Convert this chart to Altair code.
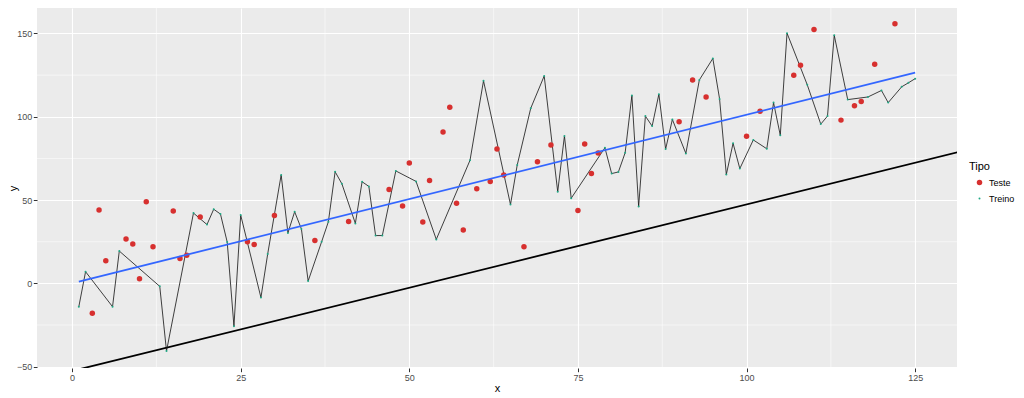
import altair as alt
import pandas as pd

# ---- data ----
teste_x = [3, 4, 5, 8, 9, 10, 11, 12, 15, 16, 17, 19, 26, 27, 30, 36, 41, 47, 49, 50,
           52, 53, 55, 56, 57, 58, 60, 62, 63, 64, 67, 69, 71, 75, 76, 77, 78, 90, 92, 94,
           100, 102, 107, 108, 110, 114, 116, 117, 119, 122]
teste_y = [-18, 44, 13.6, 26.7, 23.6, 2.8, 49, 22, 43.4, 14.9, 16.9, 39.8, 25, 23.4, 40.8,
           25.8, 37.2, 56.4, 46.5, 72.3, 36.8, 61.8, 90.9, 105.7, 48.1, 32.1, 56.8, 61.2,
           80.6, 65.1, 22, 73, 83, 43.8, 83.6, 65.9, 78.2, 97, 122.1, 111.9, 88.3, 103.3,
           124.9, 131, 152.4, 98, 106.6, 109.2, 131.5, 155.8]

treino_x = [1, 2, 6, 7, 13, 14, 18, 20, 21, 22, 23, 24, 25, 28, 29, 31, 32, 33, 34, 35,
            37, 38, 39, 40, 42, 43, 44, 45, 46, 48, 51, 54, 59, 61, 65, 66, 68, 70, 72, 73,
            74, 79, 80, 81, 82, 83, 84, 85, 86, 87, 88, 89, 91, 93, 95, 96, 97, 98, 99, 101,
            103, 104, 105, 106, 109, 111, 112, 113, 115, 118, 120, 121, 123, 124, 125]
treino_y = [-14, 7, -14, 19.4, -1.8, -40.6, 42.2, 35.3, 44.5, 41.6, 24.8, -25.7, 41, -8.5,
            17.6, 65.1, 30.3, 43, 32.7, 1.4, 25, 37, 67, 59.8, 36, 61, 58.2, 28.7, 28.7,
            67.5, 61.2, 26.4, 73.9, 121.6, 47.3, 71.1, 105.1, 124.5, 55, 88.5, 51.1, 81.4,
            65.9, 66.9, 78.4, 112.8, 46.1, 100.4, 94.4, 113.6, 80.6, 98.4, 78, 122.1, 135,
            110.7, 65.3, 84.1, 68.9, 86.1, 80.8, 108.5, 88.9, 150.2, 119.2, 95.6, 100.4,
            148.9, 110.3, 111.9, 115.8, 108.5, 118, 120.4, 122.9]

smooth_x = [1, 125]
smooth_y = [1.0, 126.5]

abline_x = [-6, 132]
abline_y = [-58.6, 79.4]

x_ticks = [0, 25, 50, 75, 100, 125]
y_ticks = [-50, 0, 50, 100, 150]
x_minor = [12.5, 37.5, 62.5, 87.5, 112.5]
y_minor = [-25, 25, 75, 125]

categories = ["Teste", "Treino"]
colors = ["#D7302F", "#1FA884"]
sizes = [30, 4]

# ---- tables ----
pts = pd.DataFrame({
    "x": teste_x + treino_x,
    "y": teste_y + treino_y,
    "Tipo": ["Teste"] * len(teste_x) + ["Treino"] * len(treino_x),
})
treino = pd.DataFrame({"x": treino_x, "y": treino_y})
smooth = pd.DataFrame({"x": smooth_x, "y": smooth_y})
abline = pd.DataFrame({"x": abline_x, "y": abline_y})
xminor = pd.DataFrame({"x": x_minor})
yminor = pd.DataFrame({"y": y_minor})

FONT = "Liberation Sans"
xs = alt.Scale(domain=[-5.2, 131.2], nice=False, zero=False)
ys = alt.Scale(domain=[-50.8, 165.3], nice=False, zero=False)

xaxis = alt.Axis(values=x_ticks, grid=True, gridColor="white", gridWidth=1.1,
                 domain=False, tickColor="#333333", tickSize=3.7, tickWidth=1,
                 labelColor="#4D4D4D", labelFontSize=9, labelFont=FONT, labelPadding=1.5,
                 title="x", titleFont=FONT, titleFontSize=11, titleFontWeight="normal",
                 titleColor="black", titlePadding=0)
yaxis = alt.Axis(values=y_ticks, grid=True, gridColor="white", gridWidth=1.1,
                 domain=False, tickColor="#333333", tickSize=3.7, tickWidth=1,
                 labelColor="#4D4D4D", labelFontSize=9, labelFont=FONT, labelPadding=1.5,
                 title="y", titleFont=FONT, titleFontSize=11, titleFontWeight="normal",
                 titleColor="black", titlePadding=-2)


def X(f="x"):
    return alt.X(f"{f}:Q", scale=xs, axis=xaxis)


def Y(f="y"):
    return alt.Y(f"{f}:Q", scale=ys, axis=yaxis)


minor_x = alt.Chart(xminor).mark_rule(color="white", strokeWidth=0.55).encode(x=X())
minor_y = alt.Chart(yminor).mark_rule(color="white", strokeWidth=0.55).encode(y=Y())

ab = alt.Chart(abline).mark_line(color="black", strokeWidth=1.8, clip=True).encode(
    x=X(), y=Y())

tline = alt.Chart(treino).mark_line(color="#111111", strokeWidth=0.8).encode(
    x=X(), y=Y())

legend = alt.Legend(title="Tipo", orient="none", legendX=932, legendY=153,
                    titleFont=FONT, titleFontSize=11, titleFontWeight="normal",
                    titleColor="black", titlePadding=6,
                    labelFont=FONT, labelFontSize=9, labelColor="black",
                    labelOffset=5, symbolOffset=6, rowPadding=6, symbolStrokeWidth=0,
                    symbolType="circle")

points = alt.Chart(pts).mark_circle(opacity=1).encode(
    x=X(), y=Y(),
    color=alt.Color("Tipo:N", scale=alt.Scale(domain=categories, range=colors), legend=legend),
    size=alt.Size("Tipo:N", scale=alt.Scale(domain=categories, range=sizes), legend=legend),
)

sm = alt.Chart(smooth).mark_line(color="#3366FF", strokeWidth=1.8).encode(x=X(), y=Y())

chart = alt.layer(minor_x, minor_y, ab, tline, points, sm).properties(
    width=920, height=360,
    autosize=alt.AutoSizeParams(type="none"),
    padding={"left": 29, "top": 0, "right": 59, "bottom": 30},
).configure_view(fill="#EBEBEB", stroke=None)

chart.save("out.html", embed_options={"renderer": "svg", "actions": False})
